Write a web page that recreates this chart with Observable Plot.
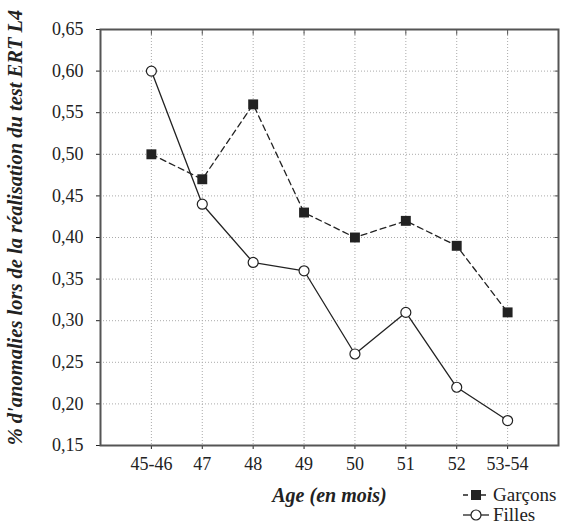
<!DOCTYPE html>
<html><head><meta charset="utf-8">
<script src="https://cdn.jsdelivr.net/npm/d3@7"></script>
<script src="https://cdn.jsdelivr.net/npm/@observablehq/plot@0.6"></script>
<style>
body{margin:0;background:#fff;font-family:'Liberation Serif',serif;}
#wrap{position:relative;width:561px;height:526px;}
#chart svg, #chart svg text{font-family:'Liberation Serif',serif !important;}
#legend{position:absolute;left:463px;top:485px;font-family:'Liberation Serif',serif;font-size:19px;color:#222;line-height:20px;}
#legend div{display:flex;align-items:center;}
#legend svg{margin-right:4px;}
</style></head>
<body><div id="wrap"><div id="chart"></div>
<div id="legend">
<div><svg width="26" height="14"><line x1="0" y1="7" x2="26" y2="7" stroke="#222" stroke-width="1.3" stroke-dasharray="5,4"/><rect x="8" y="2" width="10" height="10" fill="#222"/></svg>Garçons</div>
<div><svg width="26" height="14"><line x1="0" y1="7" x2="26" y2="7" stroke="#222" stroke-width="1.3"/><circle cx="13" cy="7" r="5" fill="#fff" stroke="#222" stroke-width="1.2"/></svg>Filles</div>
</div></div>
<script>
const categories = ["45-46","47","48","49","50","51","52","53-54"];
const garcons = [0.50,0.47,0.56,0.43,0.40,0.42,0.39,0.31];
const filles  = [0.60,0.44,0.37,0.36,0.26,0.31,0.22,0.18];
const yTicks = [0.15,0.20,0.25,0.30,0.35,0.40,0.45,0.50,0.55,0.60,0.65];

const pos = categories.map((c,i)=>i+1);
const G = categories.map((c,i)=>({x:i+1, y:garcons[i]}));
const F = categories.map((c,i)=>({x:i+1, y:filles[i]}));
const fmt = d => d.toFixed(2).replace(".", ",");

const chart = Plot.plot({
  width: 561, height: 526,
  marginLeft: 100, marginRight: 3, marginTop: 29, marginBottom: 81,
  style: {fontFamily: "'Liberation Serif', serif", fontSize: "18px", color: "#222", background: "#fff"},
  x: {type: "linear", domain: [0, 9], label: null},
  y: {domain: [0.15, 0.65], label: null},
  marks: [
    Plot.gridX(pos, {stroke: "#aaa", strokeOpacity: 1, strokeDasharray: "1,2"}),
    Plot.gridY(yTicks.slice(1,-1), {stroke: "#aaa", strokeOpacity: 1, strokeDasharray: "1,2"}),
    Plot.axisX({ticks: pos, tickFormat: i => categories[i-1], tickSize: 4, tickPadding: 8, fontSize: 18, label: null}),
    Plot.axisY({ticks: yTicks, tickFormat: fmt, tickSize: 4, tickPadding: 13, fontSize: 18, label: null}),
    Plot.ruleX(pos, {y1: 0.65, y2: 0.643, stroke: "#555"}),
    Plot.ruleY(yTicks.slice(1,-1), {x1: 9, x2: 8.93, stroke: "#555"}),
    Plot.frame({stroke: "#555", strokeWidth: 2}),
    Plot.line(G, {x: "x", y: "y", stroke: "#222", strokeWidth: 1.3, strokeDasharray: "6,4"}),
    Plot.line(F, {x: "x", y: "y", stroke: "#222", strokeWidth: 1.3}),
    Plot.dot(G, {x: "x", y: "y", symbol: "square", r: 5.6, fill: "#222", stroke: "none"}),
    Plot.dot(F, {x: "x", y: "y", symbol: "circle", r: 5, fill: "#fff", stroke: "#222", strokeWidth: 1.2}),
    Plot.text(["Age (en mois)"], {frameAnchor: "bottom", dy: 56, fontSize: 20, fontWeight: "bold", fontStyle: "italic", fill: "#222"}),
    Plot.text(["% d'anomalies lors de la réalisation du test ERT L4"], {frameAnchor: "left", textAnchor: "middle", dx: -85, rotate: -90, dy: -10, fontSize: 20.5, fontWeight: "bold", fontStyle: "italic", fill: "#222"})
  ]
});
d3.select(chart).selectAll("text").attr("font-family", "Liberation Serif, serif");
document.getElementById("chart").appendChild(chart);
</script></body></html>
